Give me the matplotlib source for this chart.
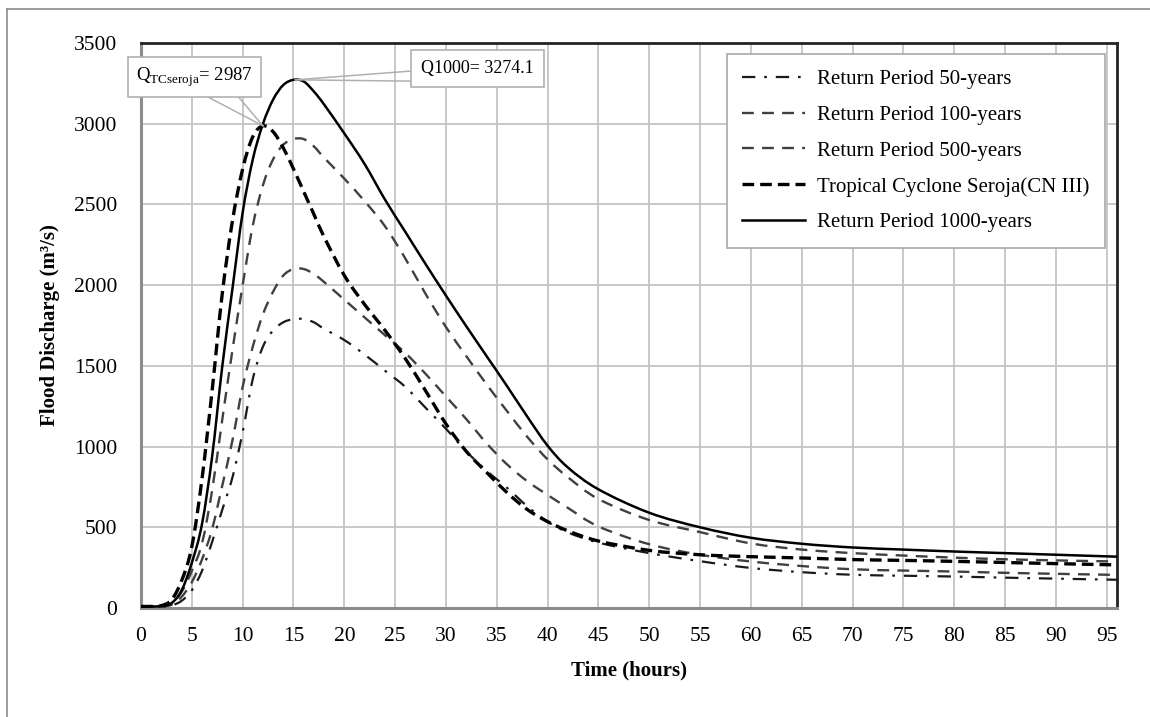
import numpy as np
import matplotlib.pyplot as plt
from matplotlib.lines import Line2D
from matplotlib.path import Path
from matplotlib.patches import PathPatch

plt.rcParams['font.family'] = ['Liberation Serif', 'DejaVu Serif']
plt.rcParams['mathtext.fontset'] = 'custom'
plt.rcParams['mathtext.rm'] = 'Liberation Serif'

# Hydrograph values (time in hours, discharge in m3/s)
time_h = [0, 1, 2, 3, 4, 5, 6, 7, 8, 9, 10, 11, 12, 13, 14, 15, 16, 17, 18,
          20, 22, 24, 26, 28, 30, 32, 34, 36, 38, 40, 42, 45, 50, 55, 60, 65,
          70, 75, 80, 85, 90, 96]

q_50 = [5, 5, 7, 15, 45, 110, 230, 410, 610, 810, 1090, 1420, 1620, 1720,
        1770, 1790, 1790, 1770, 1730, 1660, 1570, 1470, 1370, 1240, 1110, 970,
        850, 745, 630, 535, 468, 405, 340, 290, 248, 222, 206, 200, 195, 188,
        182, 175]

q_100 = [8, 8, 10, 20, 70, 160, 300, 490, 760, 1040, 1370, 1620, 1820, 1960,
         2060, 2100, 2100, 2070, 2020, 1910, 1800, 1690, 1580, 1450, 1310, 1170,
         1020, 890, 785, 700, 620, 505, 395, 330, 288, 260, 240, 232, 226, 218,
         212, 205]

q_500 = [8, 8, 10, 30, 100, 230, 400, 730, 1170, 1600, 2000, 2370, 2620, 2780,
         2870, 2905, 2905, 2860, 2790, 2660, 2520, 2365, 2165, 1945, 1740, 1560,
         1385, 1220, 1060, 920, 810, 675, 545, 470, 400, 362, 340, 325, 312,
         302, 295, 288]

q_seroja = [10, 10, 15, 50, 170, 380, 800, 1350, 1950, 2400, 2720, 2920, 2987,
            2950, 2850, 2720, 2580, 2440, 2300, 2060, 1880, 1720, 1545, 1345,
            1140, 970, 840, 715, 610, 535, 478, 415, 357, 330, 318, 310, 300,
            295, 289, 282, 275, 267]

q_1000 = [10, 10, 12, 30, 110, 280, 520, 940, 1500, 1980, 2450, 2780, 3000,
          3150, 3240, 3272, 3262, 3200, 3120, 2940, 2750, 2530, 2330, 2130, 1935,
          1745, 1560, 1375, 1185, 1005, 870, 735, 590, 500, 435, 398, 375, 362,
          350, 340, 330, 318]

labels = ['Return Period 50-years', 'Return Period 100-years',
          'Return Period 500-years', 'Tropical Cyclone Seroja(CN III)',
          'Return Period 1000-years']


def smooth_path(xs, ys):
    # Excel-style smoothed line: cubic Bezier segments through every point
    p = np.column_stack([xs, ys]).astype(float)
    p = np.vstack([p[0], p, p[-1]])
    verts = [p[1]]
    codes = [Path.MOVETO]
    for i in range(1, len(p) - 2):
        c1 = p[i] + (p[i + 1] - p[i - 1]) / 6.0
        c2 = p[i + 1] - (p[i + 2] - p[i]) / 6.0
        verts += [c1, c2, p[i + 1]]
        codes += [Path.CURVE4] * 3
    return Path(verts, codes)


fig = plt.figure(figsize=(11.5, 7.17), dpi=100)
ax = fig.add_axes([0.1226, 0.152, 0.8487, 0.788])

styles = [
    dict(color='#1a1a1a', lw=1.6, dashes=(6, 4, 1.2, 4)),
    dict(color='#404040', lw=1.7, dashes=(5, 3.5)),
    dict(color='#404040', lw=1.7, dashes=(5, 3.5)),
    dict(color='black', lw=2.4, dashes=(3.5, 1.8)),
    dict(color='black', lw=1.8, dashes=None),
]
series = [q_50, q_100, q_500, q_seroja, q_1000]

handles = []
for q, st, lab in zip(series, styles, labels):
    ls = '-' if st['dashes'] is None else (0, st['dashes'])
    patch = PathPatch(smooth_path(time_h, q), fill=False, ec=st['color'],
                      lw=st['lw'], linestyle=ls, joinstyle='round', zorder=3)
    ax.add_patch(patch)
    handles.append(Line2D([], [], color=st['color'], lw=st['lw'], linestyle=ls))

ax.set_xlim(0, 96)
ax.set_ylim(0, 3500)
ax.set_xticks(np.arange(0, 96, 5))
ax.set_yticks(np.arange(0, 3501, 500))
ax.grid(True, color='#c4c4c4', lw=1.3)
ax.set_axisbelow(True)
ax.tick_params(length=0, labelsize=15.5)
ax.tick_params(axis='x', pad=14)
ax.tick_params(axis='y', pad=17)
for side in ['top', 'right']:
    ax.spines[side].set_color('#222222')
    ax.spines[side].set_linewidth(2.0)
for side in ['left', 'bottom']:
    ax.spines[side].set_color('#8c8c8c')
    ax.spines[side].set_linewidth(2.2)

ax.set_xlabel('Time (hours)', fontsize=15, fontweight='bold', labelpad=10)
ax.set_ylabel('Flood Discharge (m³/s)', fontsize=15, fontweight='bold', labelpad=10)

leg = ax.legend(handles, labels, loc='upper right', bbox_to_anchor=(0.988, 0.981),
                fontsize=15, handlelength=3.0, labelspacing=0.78, borderpad=0.75,
                handletextpad=0.6, fancybox=False, framealpha=1,
                edgecolor='#a8a8a8', borderaxespad=0)
leg.get_frame().set_linewidth(1.2)

# callout boxes
box_style = dict(boxstyle='square,pad=0.42', fc='white', ec='#b0b0b0', lw=1.2)
i_s = int(np.argmax(q_seroja))
pk_s = (time_h[i_s], q_seroja[i_s])
pk_k = (15.2, max(q_1000))

grey = '#b0b0b0'
ax.plot([6.6, pk_s[0]], [3165, pk_s[1]], color=grey, lw=1.1, zorder=5)
ax.plot([9.6, pk_s[0]], [3165, pk_s[1]], color=grey, lw=1.1, zorder=5)
ax.plot([26.5, pk_k[0]], [3326, pk_k[1]], color=grey, lw=1.1, zorder=5)
ax.plot([26.5, pk_k[0]], [3264, pk_k[1]], color=grey, lw=1.1, zorder=5)

ax.text(5.26, 3289, r'Q$_{\mathrm{TCseroja}}$= 2987', fontsize=13.5,
        va='center', ha='center', bbox=box_style, zorder=6, clip_on=False)
ax.text(33.1, 3341, 'Q1000= 3274.1', fontsize=13, va='center', ha='center',
        bbox=dict(box_style, boxstyle='square,pad=0.55'), zorder=6)

# outer chart-area border (only top and left visible)
fig.add_artist(Line2D([0.0057, 0.0057], [0.0, 0.9875], color='#8c8c8c', lw=1.2))
fig.add_artist(Line2D([0.0057, 1.0], [0.9875, 0.9875], color='#8c8c8c', lw=1.2))

fig.savefig('out.png', dpi=100)
